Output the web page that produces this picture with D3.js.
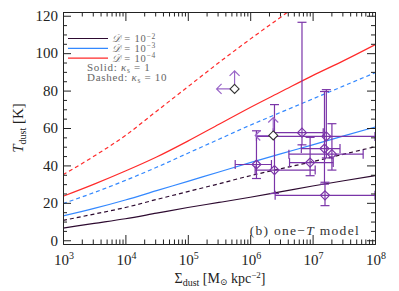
<!DOCTYPE html>
<html>
<head>
<meta charset="utf-8">
<script src="https://cdn.jsdelivr.net/npm/d3@7"></script>
<style>
  body { margin: 0; background: #fff; }
  svg { font-family: "Liberation Serif", "DejaVu Serif", serif; }
</style>
</head>
<body>
<script>
// model curves: sigma grid (half decades) and T_dust for each model
const sigmaGrid = [1e3, 3.16e3, 1e4, 3.16e4, 1e5, 3.16e5, 1e6, 3.16e6, 1e7, 3.16e7, 1e8];
const tD2solid  = [6.5, 9.0, 11.5, 14.5, 17.5, 20.2, 23, 26, 29, 31.8, 34.5];
const tD2dashed = [10.6, 14, 17.5, 21.8, 26, 30.2, 34.5, 38.3, 42, 46, 50];
const tD3solid  = [13, 17, 21.5, 26.5, 31.5, 36.5, 41.5, 46.3, 51, 55.8, 60.5];
const tD3dashed = [19.6, 25.5, 32, 39, 46.5, 54, 61.5, 68.5, 75.5, 82.5, 89.5];
const tD4solid  = [23.5, 30, 37, 44.5, 53, 62, 71, 79.5, 88, 96, 104.5];
const tD4dashed = [35, 45, 56, 69, 82, 95, 107.5, 119.5, 131.5, 143, 155];

// observed points with error bars
const obsSigma = [1.26e6, 2.45e6, 6.76e6, 1.66e7, 1.55e7, 2.04e7, 9.12e6, 1.58e7];
const obsSigLo = [5.75e5, 1.2e6, 2.34e6, 1.26e6, 6.6e6, 4.17e6, 4.27e6, 2.51e6];
const obsSigHi = [2.19e6, 1.1e7, 1.48e7, 1e8, 2.75e7, 6.46e7, 2.14e7, 1e8];
const obsT     = [40.5, 37.5, 57.5, 55.5, 49, 46, 41.5, 24];
const obsTLo   = [33, 25, 51, 44, 30, 37.5, 34.5, 18.5];
const obsTHi   = [58.5, 72.5, 116.5, 80.5, 79.5, 62.3, 55, 31];

// lower limits (arrows up and left)
const limSigma = [5.62e5, 2.34e6];
const limT     = [80.9, 56];

const yTicks = [0, 20, 40, 60, 80, 100, 120];
const xTicks = [1e3, 1e4, 1e5, 1e6, 1e7, 1e8];

const width = 399, height = 291;
const margin = { left: 63, right: 24, top: 12, bottom: 47 };

const svg = d3.select("body").append("svg")
    .attr("width", width)
    .attr("height", height);

const x = d3.scaleLog().domain([1e3, 1e8]).range([margin.left, width - margin.right]);
const y = d3.scaleLinear().domain([-2, 122]).range([height - margin.bottom, margin.top]);

svg.append("clipPath").attr("id", "plot")
  .append("rect")
    .attr("x", margin.left).attr("y", margin.top)
    .attr("width", x.range()[1] - margin.left)
    .attr("height", y.range()[0] - margin.top);

const plot = svg.append("g").attr("clip-path", "url(#plot)");

// model lines
const models = [
    { t: tD2solid, color: "#2d0a30", dash: null },
    { t: tD2dashed, color: "#2d0a30", dash: "4,3" },
    { t: tD3solid, color: "#3388ff", dash: null },
    { t: tD3dashed, color: "#3388ff", dash: "4,3" },
    { t: tD4solid, color: "#ff2a2a", dash: null },
    { t: tD4dashed, color: "#ff2a2a", dash: "4,3" }
];

const line = d3.line()
    .x((d, i) => x(sigmaGrid[i]))
    .y(d => y(d))
    .curve(d3.curveMonotoneX);

plot.selectAll(".model")
    .data(models)
    .enter().append("path")
    .attr("fill", "none")
    .attr("stroke", d => d.color)
    .attr("stroke-width", 1.2)
    .attr("stroke-dasharray", d => d.dash)
    .attr("d", d => line(d.t));

// error bars
const purple = "#7a34a8";
const cap = 4.5;
const eb = plot.append("g").attr("stroke", purple).attr("stroke-width", 1.2).attr("fill", "none");

obsSigma.forEach((s, i) => {
    const cx = x(s), cy = y(obsT[i]);
    const x0 = x(obsSigLo[i]), x1 = x(obsSigHi[i]);
    const y0 = y(obsTLo[i]), y1 = y(obsTHi[i]);
    eb.append("line").attr("x1", x0).attr("x2", x1).attr("y1", cy).attr("y2", cy);
    eb.append("line").attr("x1", x0).attr("x2", x0).attr("y1", cy - cap).attr("y2", cy + cap);
    eb.append("line").attr("x1", x1).attr("x2", x1).attr("y1", cy - cap).attr("y2", cy + cap);
    eb.append("line").attr("x1", cx).attr("x2", cx).attr("y1", y0).attr("y2", y1);
    eb.append("line").attr("x1", cx - cap).attr("x2", cx + cap).attr("y1", y0).attr("y2", y0);
    eb.append("line").attr("x1", cx - cap).attr("x2", cx + cap).attr("y1", y1).attr("y2", y1);
});

const diamond = (cx, cy, r) => `M${cx},${cy - r}L${cx + r},${cy}L${cx},${cy + r}L${cx - r},${cy}Z`;

plot.selectAll(".obs")
    .data(obsSigma)
    .enter().append("path")
    .attr("d", (d, i) => diamond(x(d), y(obsT[i]), 4.5))
    .attr("fill", "none")
    .attr("stroke", purple)
    .attr("stroke-width", 1.2);

// limits with arrows
const arrowLen = 18, head = 5;
limSigma.forEach((s, i) => {
    const cx = x(s), cy = y(limT[i]);
    const g = plot.append("g").attr("stroke", "#9a66c8").attr("stroke-width", 1.2).attr("fill", "none");
    g.append("path").attr("d",
        `M${cx},${cy}V${cy - arrowLen}M${cx - head},${cy - arrowLen + head}L${cx},${cy - arrowLen}L${cx + head},${cy - arrowLen + head}`);
    g.append("path").attr("d",
        `M${cx},${cy}H${cx - arrowLen}M${cx - arrowLen + head},${cy - head}L${cx - arrowLen},${cy}L${cx - arrowLen + head},${cy + head}`);
    plot.append("path")
        .attr("d", diamond(cx, cy, 4.5))
        .attr("fill", "#fff")
        .attr("stroke", "#333")
        .attr("stroke-width", 1.1);
});

// axes
const axisColor = "#222";
const yMinor = d3.range(0, 121, 5).filter(v => v % 20 !== 0);
const xMinor = [];
xTicks.slice(0, -1).forEach(d => { for (let k = 2; k <= 9; k++) xMinor.push(d * k); });

function styleAxis(g) {
    g.select(".domain").attr("stroke", axisColor);
    g.selectAll(".tick line").attr("stroke", axisColor);
    g.selectAll("text").remove();
}

const plotBottom = y.range()[0], plotTop = margin.top, plotLeft = margin.left, plotRight = x.range()[1];

svg.append("g").attr("transform", `translate(${plotLeft},0)`)
    .call(d3.axisLeft(y).tickValues(yTicks).tickSize(-8).tickSizeOuter(0))
    .call(g => g.select(".domain").attr("stroke", axisColor))
    .call(g => g.selectAll(".tick line").attr("stroke", axisColor))
    .call(g => g.selectAll("text")
        .attr("font-size", 15)
        .attr("fill", "#222")
        .attr("x", -5)
        .attr("font-family", "Liberation Serif"));
svg.append("g").attr("transform", `translate(${plotLeft},0)`)
    .call(d3.axisLeft(y).tickValues(yMinor).tickSize(-4).tickSizeOuter(0)).call(styleAxis);
svg.append("g").attr("transform", `translate(${plotRight},0)`)
    .call(d3.axisRight(y).tickValues(yTicks).tickSize(-8).tickSizeOuter(0)).call(styleAxis);
svg.append("g").attr("transform", `translate(${plotRight},0)`)
    .call(d3.axisRight(y).tickValues(yMinor).tickSize(-4).tickSizeOuter(0)).call(styleAxis);

svg.append("g").attr("transform", `translate(0,${plotBottom})`)
    .call(d3.axisBottom(x).tickValues(xTicks).tickSize(-9).tickSizeOuter(0)).call(styleAxis);
svg.append("g").attr("transform", `translate(0,${plotBottom})`)
    .call(d3.axisBottom(x).tickValues(xMinor).tickSize(-4.5).tickSizeOuter(0)).call(styleAxis);
svg.append("g").attr("transform", `translate(0,${plotTop})`)
    .call(d3.axisTop(x).tickValues(xTicks).tickSize(-9).tickSizeOuter(0)).call(styleAxis);
svg.append("g").attr("transform", `translate(0,${plotTop})`)
    .call(d3.axisTop(x).tickValues(xMinor).tickSize(-4.5).tickSizeOuter(0)).call(styleAxis);

// x tick labels 10^n
svg.selectAll(".xlab")
    .data(xTicks)
    .enter().append("text")
    .attr("x", d => x(d) + 1)
    .attr("y", plotBottom + 21)
    .attr("text-anchor", "middle")
    .attr("font-size", 15)
    .attr("fill", "#222")
    .text("10")
    .append("tspan")
    .attr("dy", -6)
    .attr("font-size", 10)
    .text(d => Math.round(Math.log10(d)));

// axis titles
const xt = svg.append("text")
    .attr("x", (plotLeft + plotRight) / 2 + 1)
    .attr("y", 283)
    .attr("text-anchor", "middle")
    .attr("font-size", 14)
    .attr("fill", "#222");
xt.append("tspan").text("Σ");
xt.append("tspan").attr("font-size", 10).attr("dy", 3).text("dust");
xt.append("tspan").attr("dy", -3).text(" [M");
xt.append("tspan").attr("font-size", 9).attr("dy", 2).text("⊙");
xt.append("tspan").attr("dy", -2).text(" kpc");
xt.append("tspan").attr("font-size", 9).attr("dy", -5).text("−2");
xt.append("tspan").attr("dy", 5).text("]");

const yt = svg.append("text")
    .attr("transform", `translate(23,${(plotTop + plotBottom) / 2}) rotate(-90)`)
    .attr("text-anchor", "middle")
    .attr("font-size", 15)
    .attr("fill", "#222");
yt.append("tspan").attr("font-style", "italic").text("T");
yt.append("tspan").attr("font-size", 10).attr("dy", 3).text("dust");
yt.append("tspan").attr("dy", -3).text(" [K]");

// legend
const legendLabels = ["−2", "−3", "−4"];
const legendColors = ["#2d0a30", "#3388ff", "#ff2a2a"];
legendLabels.forEach((lab, i) => {
    const ly = 38.5 + i * 9.8;
    svg.append("line")
        .attr("x1", 68).attr("x2", 108)
        .attr("y1", ly).attr("y2", ly)
        .attr("stroke", legendColors[i])
        .attr("stroke-width", 1.2);
    const t = svg.append("text")
        .attr("x", 112).attr("y", ly + 3.5)
        .attr("font-size", 10.5)
        .attr("letter-spacing", 0.8)
        .attr("fill", "#666");
    t.append("tspan").attr("font-style", "italic").text("𝒟");
    t.append("tspan").text(" = 10");
    t.append("tspan").attr("font-size", 7.5).attr("dy", -3.5).text(lab);
});

const s1 = svg.append("text").attr("x", 87).attr("y", 70.5)
    .attr("font-size", 11).attr("letter-spacing", 0.7).attr("fill", "#666");
s1.append("tspan").text("Solid: ");
s1.append("tspan").attr("font-style", "italic").text("κ");
s1.append("tspan").attr("font-size", 7.5).attr("dy", 2).text("s");
s1.append("tspan").attr("dy", -2).text(" = 1");

const s2 = svg.append("text").attr("x", 87).attr("y", 80.5)
    .attr("font-size", 11).attr("letter-spacing", 0.7).attr("fill", "#666");
s2.append("tspan").text("Dashed: ");
s2.append("tspan").attr("font-style", "italic").text("κ");
s2.append("tspan").attr("font-size", 7.5).attr("dy", 2).text("s");
s2.append("tspan").attr("dy", -2).text(" = 10");

// panel label
const pl = svg.append("text")
    .attr("x", 360).attr("y", 235)
    .attr("text-anchor", "end")
    .attr("font-size", 13.5)
    .attr("letter-spacing", 1.3)
    .attr("fill", "#333");
pl.append("tspan").text("(b) one−");
pl.append("tspan").attr("font-style", "italic").text("T");
pl.append("tspan").text(" model");
</script>
</body>
</html>
